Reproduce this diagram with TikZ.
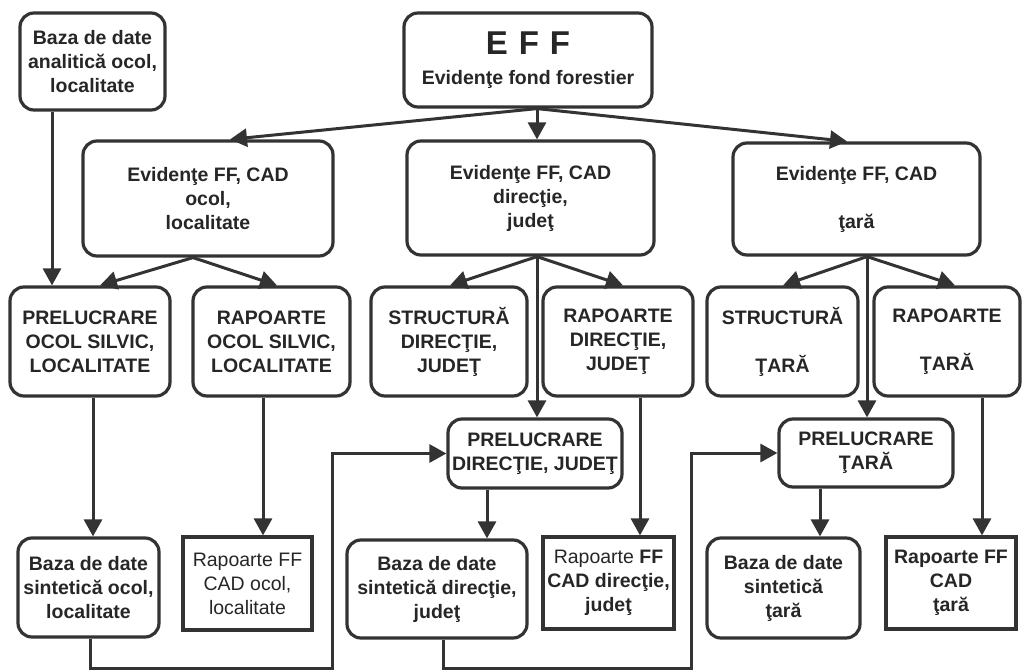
\documentclass[tikz,border=0pt]{standalone}
\usepackage{fontspec}
\setmainfont{Liberation Sans}
\usetikzlibrary{arrows.meta}
\begin{document}
\begin{tikzpicture}[x=1pt,y=-1pt,
  box/.style={draw=black!80,text=black!85,line width=3.2pt,rounded corners=14pt,align=center,inner sep=0pt,
    font=\bfseries\fontsize{19.5}{24}\selectfont},
  sq/.style={box,rounded corners=0pt},
  arr/.style={draw=black!80,line width=3pt,-{Triangle[length=17pt,width=18pt]}}]
\useasboundingbox (0,0) rectangle (1022,671);
% top
\node[box,minimum width=145pt,minimum height=97pt] (bazaA) at (92.5,61.5) {Baza de date\\analitică ocol,\\localitate};
\node[box,minimum width=248pt,minimum height=94pt] (eff) at (528,60) {{\fontsize{33}{33}\selectfont E\,\,F\,\,F}\\[6pt]Evidenţe fond forestier};
\node[box,minimum width=250pt,minimum height=115pt] (evOcol) at (208,198.5) {Evidenţe FF, CAD\\ocol,\\localitate};
\node[box,minimum width=247pt,minimum height=114pt] (evDir) at (530.5,198) {Evidenţe FF, CAD\\direcţie,\\judeţ};
\node[box,minimum width=247pt,minimum height=112pt] (evTara) at (856.5,199) {Evidenţe FF, CAD\\[24pt]ţară};
% second row
\node[box,minimum width=160pt,minimum height=109pt] (prelOcol) at (90,341.5) {PRELUCRARE\\OCOL SILVIC,\\LOCALITATE};
\node[box,minimum width=157pt,minimum height=109pt] (rapOcol) at (271.5,341.5) {RAPOARTE\\OCOL SILVIC,\\LOCALITATE};
\node[box,minimum width=156pt,minimum height=109pt] (strDir) at (449,341.5) {STRUCTURĂ\\DIRECŢIE,\\JUDEŢ};
\node[box,minimum width=150pt,minimum height=109pt] (rapDir) at (618,341.5) {RAPOARTE\\DIRECŢIE,\\JUDEŢ};
\node[box,minimum width=151pt,minimum height=109pt] (strTara) at (782.5,341.5) {STRUCTURĂ\\[24pt]ŢARĂ};
\node[box,minimum width=146pt,minimum height=109pt] (rapTara) at (947,341.5) {RAPOARTE\\[24pt]ŢARĂ};
\node[box,minimum width=174pt,minimum height=69pt] (prelDir) at (535,453.5) {PRELUCRARE\\DIRECŢIE, JUDEŢ};
\node[box,minimum width=174pt,minimum height=68pt] (prelTara) at (866,453) {PRELUCRARE\\ŢARĂ};
% bottom
\node[box,minimum width=141pt,minimum height=99pt] (bazaSOcol) at (88.5,587.5) {Baza de date\\sintetică ocol,\\localitate};
\node[sq,minimum width=129pt,minimum height=93pt,font=\mdseries\fontsize{19.5}{24}\selectfont] (rapFFOcol) at (247.5,583.5) {Rapoarte FF\\CAD ocol,\\localitate};
\node[box,minimum width=180pt,minimum height=98pt] (bazaSDir) at (437,589) {Baza de date\\sintetică direcţie,\\judeţ};
\node[sq,minimum width=131pt,minimum height=92pt] (rapFFDir) at (608.5,583) {{\mdseries Rapoarte} FF\\CAD direcţie,\\judeţ};
\node[box,minimum width=153pt,minimum height=100pt] (bazaSTara) at (783.5,588) {Baza de date\\sintetică\\ţară};
\node[sq,minimum width=130pt,minimum height=92pt] (rapFFTara) at (951,583) {Rapoarte FF\\CAD\\ţară};
% arrows
\draw[arr] (52,0 |- bazaA.south) -- (52,0 |- prelOcol.north);
\draw[arr] (537,0 |- eff.south) -- (230,0 |- evOcol.north);
\draw[arr] (537,0 |- eff.south) -- (537,0 |- evDir.north);
\draw[arr] (537,0 |- eff.south) -- (847,0 |- evTara.north);
\draw[arr] (193,0 |- evOcol.south) -- (100,0 |- prelOcol.north);
\draw[arr] (193,0 |- evOcol.south) -- (277,0 |- rapOcol.north);
\draw[arr] (537,0 |- evDir.south) -- (450,0 |- strDir.north);
\draw[arr] (537,0 |- evDir.south) -- (623,0 |- rapDir.north);
\draw[arr] (537,0 |- evDir.south) -- (537,0 |- prelDir.north);
\draw[arr] (867,0 |- evTara.south) -- (783,0 |- strTara.north);
\draw[arr] (867,0 |- evTara.south) -- (955,0 |- rapTara.north);
\draw[arr] (867,0 |- evTara.south) -- (867,0 |- prelTara.north);
\draw[arr] (93,0 |- prelOcol.south) -- (93,0 |- bazaSOcol.north);
\draw[arr] (263,0 |- rapOcol.south) -- (263,0 |- rapFFOcol.north);
\draw[arr] (487,0 |- prelDir.south) -- (487,0 |- bazaSDir.north);
\draw[arr] (640,0 |- rapDir.south) -- (640,0 |- rapFFDir.north);
\draw[arr] (820,0 |- prelTara.south) -- (820,0 |- bazaSTara.north);
\draw[arr] (982,0 |- rapTara.south) -- (982,0 |- rapFFTara.north);
\draw[arr] (90,0 |- bazaSOcol.south) |- (332,668) |- (prelDir.west);
\draw[arr] (443,0 |- bazaSDir.south) |- (691,668) |- (prelTara.west);
\end{tikzpicture}
\end{document}
